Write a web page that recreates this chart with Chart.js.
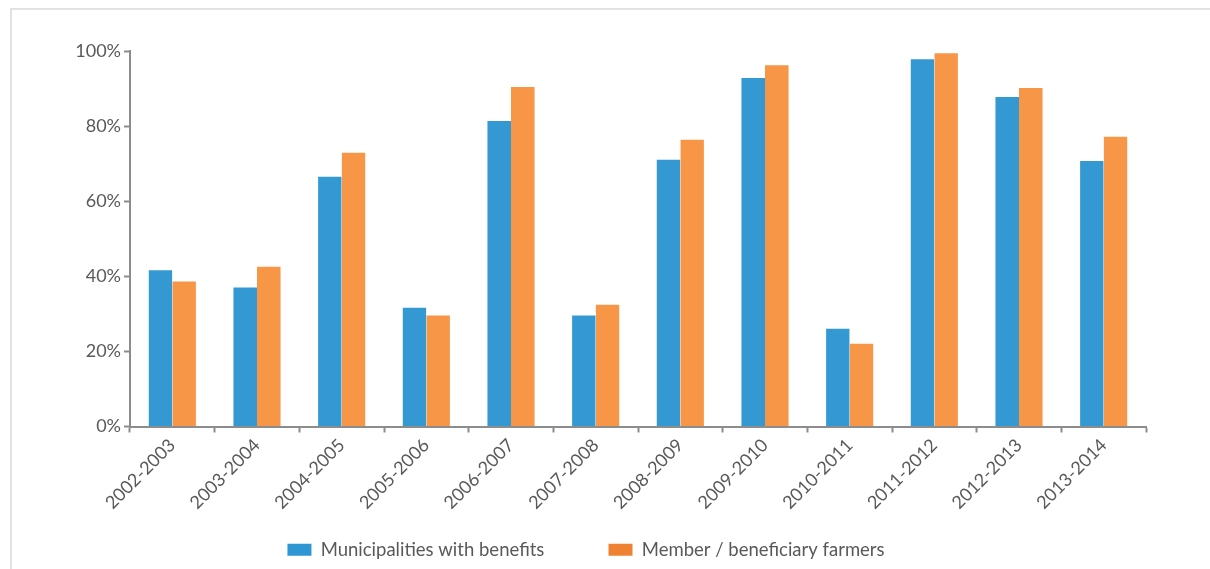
<!DOCTYPE html>
<html>
<head>
<meta charset="utf-8">
<script src="https://cdn.jsdelivr.net/npm/chart.js@4.4.1/dist/chart.umd.min.js"></script>
<style>
  html, body { margin: 0; padding: 0; background: #fff; }
  #wrap { position: relative; width: 1210px; height: 569px; overflow: hidden; }
  #frame { position: absolute; left: 10px; top: 8px; width: 1210px; height: 580px;
           border-left: 2px solid #e2e2e2; border-top: 2px solid #e2e2e2; }
  canvas { position: absolute; left: 0; top: 0; }
</style>
</head>
<body>
<div id="wrap">
  <div id="frame"></div>
  <canvas id="barChart" width="1210" height="569"></canvas>
</div>
<script>
// chart data
const seasons = ['2002-2003', '2003-2004', '2004-2005', '2005-2006', '2006-2007', '2007-2008',
                 '2008-2009', '2009-2010', '2010-2011', '2011-2012', '2012-2013', '2013-2014'];
const municipalities = [41.9, 37.3, 66.8, 31.9, 81.6, 29.8, 71.3, 93.1, 26.3, 98.1, 88.0, 71.0];
const farmers = [38.9, 42.8, 73.2, 29.8, 90.7, 32.7, 76.6, 96.5, 22.3, 99.7, 90.4, 77.4];
const yTicks = [0, 20, 40, 60, 80, 100];

const axisGray = '#8c8c8c';
const textGray = '#595959';

function renderChart() {
  const ctx = document.getElementById('barChart').getContext('2d');

  new Chart(ctx, {
    type: 'bar',
    data: {
      labels: seasons,
      datasets: [{
        label: 'Municipalities with benefits',
        data: municipalities,
        backgroundColor: '#3499d2',
        borderColor: 'rgba(255,255,255,0.45)',
        borderWidth: { left: 1, right: 0, top: 1, bottom: 0 },
      }, {
        label: 'Member / beneficiary farmers',
        data: farmers,
        backgroundColor: '#f79646',
        borderColor: 'rgba(255,255,255,0.45)',
        borderWidth: { left: 0, right: 1, top: 1, bottom: 0 },
      }]
    },
    options: {
      responsive: false,
      animation: false,
      layout: { padding: { left: 26, right: 64, top: 51, bottom: 0 } },
      datasets: {
        bar: { categoryPercentage: 0.58, barPercentage: 1.0 }
      },
      plugins: {
        tooltip: { enabled: false },
        legend: {
          position: 'bottom',
          maxHeight: 62,
          labels: {
            boxWidth: 24,
            boxHeight: 12,
            padding: 31,
            color: textGray,
            font: { family: 'Lato', size: 18.5 },
            // wider gap between the two items than the legend padding gives
            generateLabels: chart => chart.data.datasets.map((ds, i) => ({
              text: i === 0 ? ds.label + '       ' : ds.label,
              fillStyle: i === 0 ? '#2f96d4' : '#ef8232',
              strokeStyle: 'transparent',
              lineWidth: 0,
              fontColor: textGray,
              datasetIndex: i
            }))
          }
        }
      },
      scales: {
        x: {
          afterFit: scale => { scale.height = 83; },
          grid: {
            drawOnChartArea: false,
            drawTicks: true,
            tickLength: 6,
            tickColor: axisGray,
            tickWidth: 2
          },
          border: { color: axisGray, width: 2 },
          ticks: {
            color: textGray,
            font: { family: 'Lato', size: 18 },
            minRotation: 45,
            maxRotation: 45,
            padding: 2
          }
        },
        y: {
          min: 0,
          max: 100,
          afterFit: scale => { scale.width = 104; },
          afterBuildTicks: scale => { scale.ticks = yTicks.map(v => ({ value: v })); },
          grid: {
            drawOnChartArea: false,
            drawTicks: true,
            tickLength: 6,
            tickColor: axisGray,
            tickWidth: 2
          },
          border: { color: axisGray, width: 2 },
          ticks: {
            color: textGray,
            font: { family: 'Lato', size: 18 },
            padding: 3,
            callback: v => v + '%'
          }
        }
      }
    }
  });
}

renderChart();
</script>
</body>
</html>
